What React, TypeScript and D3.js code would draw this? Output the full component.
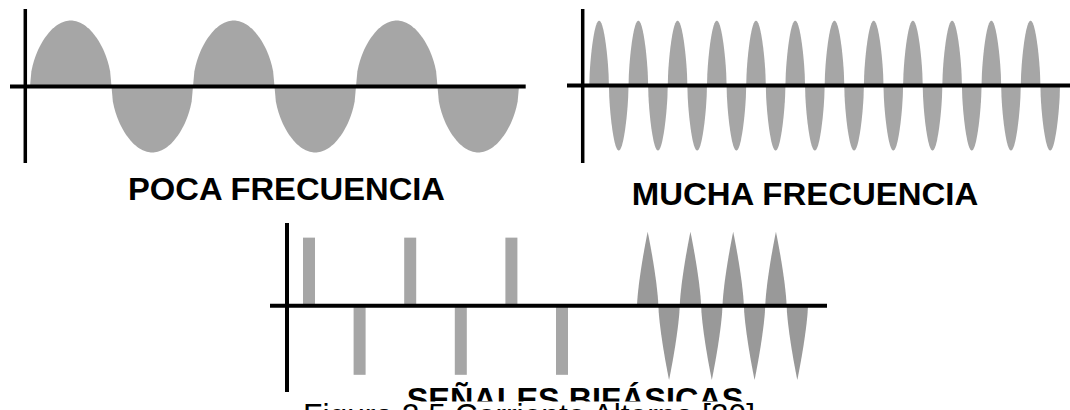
import React from "react";
import * as d3 from "d3";

// ---- Data ----
// Peak value of each half-cycle ("lobe") of the low-frequency wave
const LOW_FREQ_LOBES = [1, -1, 1, -1, 1, -1];
// Peak value of each half-cycle of the high-frequency wave
const HIGH_FREQ_LOBES = [
  1, -1, 1, -1, 1, -1, 1, -1, 1, -1, 1, -1,
  1, -1, 1, -1, 1, -1, 1, -1, 1, -1, 1, -1,
];
// Rectangular biphasic pulses
const PULSE_VALUES = [0.92, -0.93, 0.92, -0.93, 0.92, -0.93];
// Spiky biphasic burst
const SPIKE_VALUES = [1, -1, 1, -1, 1, -1, 1, -1];

const TITLES = ["POCA FRECUENCIA", "MUCHA FRECUENCIA", "SEÑALES BIFÁSICAS"];
const CAPTION = "Figura 2.5 Corriente Alterna [20]";

const FONT = "'Liberation Sans', Arial, Helvetica, sans-serif";
const FILL = "#a6a6a6";
const SPIKE_FILL = "#999999";

type Shape = (t: number) => number;

const roundShape = (p: number): Shape => (t) => Math.pow(Math.max(0, Math.sin(Math.PI * t)), p);
const spikeShape = (q: number): Shape => (t) => Math.pow(Math.max(0, 1 - Math.abs(2 * t - 1)), q);

function lobePaths(
  values: number[],
  x: d3.ScaleLinear<number, number>,
  y: d3.ScaleLinear<number, number>,
  shape: Shape
): string[] {
  const N = 60;
  const line = d3
    .line<[number, number]>()
    .x((d) => d[0])
    .y((d) => d[1]);
  return values.map((v, i) => {
    const pts: [number, number][] = d3.range(N + 1).map((k) => {
      const t = k / N;
      return [x(i + t), y(v * shape(t))];
    });
    return (line(pts) || "") + "Z";
  });
}

export default function App() {
  // Panel A: low frequency
  const xA = d3.scaleLinear().domain([0, LOW_FREQ_LOBES.length]).range([30, 519]);
  const yA = d3.scaleLinear().domain([-1, 1]).range([152.5, 20.5]);
  const pathsA = lobePaths(LOW_FREQ_LOBES, xA, yA, roundShape(0.5));

  // Panel B: high frequency
  const xB = d3.scaleLinear().domain([0, HIGH_FREQ_LOBES.length]).range([589.3, 1060]);
  const yB = d3.scaleLinear().domain([-1, 1]).range([150.5, 20.7]);
  const pathsB = lobePaths(HIGH_FREQ_LOBES, xB, yB, roundShape(0.6));

  // Panel C: biphasic signals
  const yC = d3.scaleLinear().domain([-1, 1]).range([380, 231.7]);
  const xPulse = d3.scaleLinear().domain([0, PULSE_VALUES.length - 1]).range([309, 562]);
  const pulseW = 12;
  const xSpike = d3.scaleLinear().domain([0, SPIKE_VALUES.length]).range([637, 808]);
  const pathsC = lobePaths(SPIKE_VALUES, xSpike, yC, spikeShape(0.72));

  return (
    <svg
      width={1070}
      height={410}
      viewBox="0 0 1070 410"
      style={{ position: "absolute", left: 0, top: 0, background: "#fff" }}
    >
      <rect x={0} y={0} width={1070} height={410} fill="#fff" />

      {/* Panel A */}
      <g>
        {pathsA.map((d, i) => (
          <path key={i} d={d} fill={FILL} />
        ))}
        <line x1={10} x2={525.7} y1={yA(0)} y2={yA(0)} stroke="#000" strokeWidth={4} />
        <line x1={25.3} x2={25.3} y1={9} y2={163} stroke="#000" strokeWidth={3.5} />
        <text
          x={128}
          y={200}
          fontFamily={FONT}
          fontWeight="bold"
          fontSize={32}
          textLength={317}
          lengthAdjust="spacingAndGlyphs"
          fill="#000"
        >
          {TITLES[0]}
        </text>
      </g>

      {/* Panel B */}
      <g>
        {pathsB.map((d, i) => (
          <path key={i} d={d} fill={FILL} />
        ))}
        <line x1={567} x2={1070} y1={yB(0)} y2={yB(0)} stroke="#000" strokeWidth={4} />
        <line x1={582.7} x2={582.7} y1={9} y2={163} stroke="#000" strokeWidth={3.5} />
        <text
          x={631.7}
          y={205}
          fontFamily={FONT}
          fontWeight="bold"
          fontSize={32}
          textLength={346.6}
          lengthAdjust="spacingAndGlyphs"
          fill="#000"
        >
          {TITLES[1]}
        </text>
      </g>

      {/* Panel C */}
      <g>
        {PULSE_VALUES.map((v, i) => (
          <rect
            key={i}
            x={xPulse(i) - pulseW / 2}
            width={pulseW}
            y={Math.min(yC(v), yC(0))}
            height={Math.abs(yC(v) - yC(0))}
            fill={FILL}
          />
        ))}
        {pathsC.map((d, i) => (
          <path key={i} d={d} fill={SPIKE_FILL} />
        ))}
        <line x1={270} x2={827} y1={yC(0)} y2={yC(0)} stroke="#000" strokeWidth={4} />
        <line x1={287} x2={287} y1={223} y2={392} stroke="#000" strokeWidth={4} />
        <text
          x={406.7}
          y={409.7}
          fontFamily={FONT}
          fontWeight="bold"
          fontSize={32}
          textLength={336.6}
          lengthAdjust="spacingAndGlyphs"
          fill="#000"
        >
          {TITLES[2]}
        </text>
      </g>

      {/* Figure caption overlapping the bottom title, as in the scanned source */}
      <rect x={0} y={401.5} width={1070} height={20} fill="#fff" />
      <text
        x={303}
        y={426}
        fontFamily={FONT}
        fontSize={32}
        textLength={452}
        lengthAdjust="spacingAndGlyphs"
        fill="#000"
      >
        {CAPTION}
      </text>
    </svg>
  );
}
